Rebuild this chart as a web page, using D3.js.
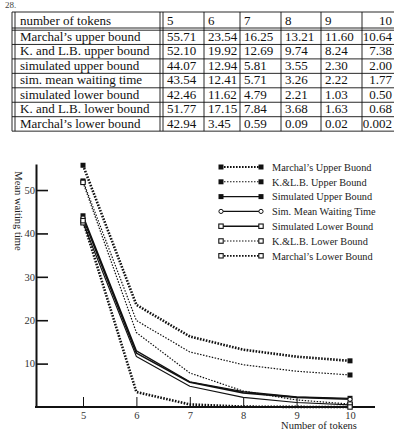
<!DOCTYPE html>
<html><head><meta charset="utf-8">
<script src="https://cdn.jsdelivr.net/npm/d3@7"></script>
<style>html,body{margin:0;padding:0;background:#fff;overflow:hidden}</style>
</head><body><svg id="c" width="394" height="433"></svg>
<script>
// ---- data ----
const tokens = [5, 6, 7, 8, 9, 10];
const tableLabels = ["Marchal\u2019s upper bound", "K. and L.B. upper bound", "simulated upper bound",
  "sim. mean waiting time", "simulated lower bound", "K. and L.B. lower bound", "Marchal\u2019s lower bound"];
const legendLabels = ["Marchal\u2019s Upper Buond", "K.&L.B. Upper Bound", "Simulated Upper Bound",
  "Sim. Mean Waiting Time", "Simulated Lower Bound", "K.&L.B. Lower Bound", "Marchal\u2019s Lower Bound"];
const marchalUpper = [55.71, 23.54, 16.25, 13.21, 11.60, 10.64];
const klbUpper = [52.10, 19.92, 12.69, 9.74, 8.24, 7.38];
const simUpper = [44.07, 12.94, 5.81, 3.55, 2.30, 2.00];
const simMean = [43.54, 12.41, 5.71, 3.26, 2.22, 1.77];
const simLower = [42.46, 11.62, 4.79, 2.21, 1.03, 0.50];
const klbLower = [51.77, 17.15, 7.84, 3.68, 1.63, 0.68];
const marchalLower = [42.94, 3.45, 0.59, 0.09, 0.02, 0.002];
const yTicks = [10, 20, 30, 40, 50];

const seriesValues = [marchalUpper, klbUpper, simUpper, simMean, simLower, klbLower, marchalLower];
// styles per series (index-matched)
const styles = [
  {w: 2.6, dash: "1.6,1.4", marker: "square", fill: true},
  {w: 1.2, dash: "1.5,1.5", marker: "square", fill: true},
  {w: 1.3, dash: null, marker: "square", fill: true},
  {w: 1.6, dash: null, marker: "circle", fill: false},
  {w: 1.1, dash: null, marker: "square", fill: false},
  {w: 1.2, dash: "1.5,1.5", marker: "square", fill: false},
  {w: 2.6, dash: "1.6,1.4", marker: "square", fill: false}
];

const svg = d3.select("#c");
const ink = "#111";
const serif = "'Liberation Serif', 'Times New Roman', serif";

// ---- caption fragment at top ----
svg.append("text").attr("x", 5).attr("y", 8).attr("font-family", serif).attr("font-size", 9)
  .attr("fill", "#444").text("28.");

// ---- table ----
const tbl = svg.append("g").attr("font-family", serif).attr("font-size", 13).attr("fill", ink);
const colSeps = [204, 240, 281, 321, 362];
const colStarts = [163, 204, 240, 281, 321, 362];
const rowBottoms = tableLabels.map((d, i) => 30 + (i + 1) * 14.45);
const L = (x1, y1, x2, y2) => tbl.append("line").attr("x1", x1).attr("y1", y1).attr("x2", x2).attr("y2", y2)
  .attr("stroke", ink).attr("stroke-width", 0.9);
const tableBottom = rowBottoms[rowBottoms.length - 1];
L(12, 12, 394, 12);
L(12, 28, 394, 28);
L(12, 30.2, 394, 30.2);
rowBottoms.forEach(y => L(12, y, 394, y));
[12, 15, 160, 163].concat(colSeps).forEach(x => L(x, 12, x, tableBottom));
tbl.append("text").attr("x", 20).attr("y", 24.5).text("number of tokens");
tokens.forEach((t, j) => {
  const last = j === tokens.length - 1;
  tbl.append("text").attr("x", last ? 392 : colStarts[j] + 4).attr("y", 24.5)
    .attr("text-anchor", last ? "end" : "start").text(t);
});
const fmt = v => v < 0.01 ? String(v) : v.toFixed(2);
seriesValues.forEach((vals, i) => {
  const yb = rowBottoms[i] - 3.6;
  tbl.append("text").attr("x", 20).attr("y", yb).text(tableLabels[i]);
  vals.forEach((v, j) => {
    const last = j === vals.length - 1;
    tbl.append("text").attr("x", last ? 392 : colStarts[j] + 4).attr("y", yb)
      .attr("text-anchor", last ? "end" : "start").text(fmt(v));
  });
});

// ---- chart ----
const x = d3.scaleLinear().domain([5, 10]).range([83, 350]);
const y = d3.scaleLinear().domain([0, 56]).range([407, 164]);

const chart = svg.append("g").attr("font-family", serif).attr("fill", ink);

const yAxis = chart.append("g").attr("transform", "translate(36,0)")
  .call(d3.axisLeft(y).tickValues(yTicks).tickSizeInner(-12).tickSizeOuter(0).tickPadding(1));
yAxis.select(".domain").attr("stroke", ink).attr("stroke-width", 2);
yAxis.selectAll(".tick line").attr("stroke", ink).attr("stroke-width", 1.6);
yAxis.selectAll(".tick text").attr("font-family", serif).attr("font-size", 10.5).attr("fill", "#333");

const xAxis = chart.append("g").attr("transform", "translate(0,407)")
  .call(d3.axisBottom(x).tickValues(tokens).tickFormat(d3.format("d"))
    .tickSizeInner(-10).tickSizeOuter(0).tickPadding(5));
xAxis.select(".domain").remove();
xAxis.selectAll(".tick line").attr("stroke", ink).attr("stroke-width", 1);
xAxis.selectAll(".tick text").attr("font-family", serif).attr("font-size", 10.5).attr("fill", "#333");
chart.append("line").attr("x1", 35).attr("x2", 375).attr("y1", 407).attr("y2", 407)
  .attr("stroke", ink).attr("stroke-width", 2);

chart.append("text").attr("x", 319).attr("y", 429).attr("text-anchor", "middle")
  .attr("font-size", 10.5).attr("fill", "#222").text("Number of tokens");
chart.append("text").attr("transform", "translate(15,211) rotate(90)").attr("text-anchor", "middle")
  .attr("font-size", 10.5).attr("fill", "#222").text("Mean waiting time");

function drawMarker(g, cx, cy, st) {
  if (st.marker === "circle") {
    g.append("circle").attr("cx", cx).attr("cy", cy).attr("r", 2.1)
      .attr("fill", "#fff").attr("stroke", ink).attr("stroke-width", 1);
  } else {
    const s = st.fill ? 5 : 4.4;
    g.append("rect").attr("x", cx - s / 2).attr("y", cy - s / 2).attr("width", s).attr("height", s)
      .attr("fill", st.fill ? ink : "#fff").attr("stroke", ink).attr("stroke-width", st.fill ? 0 : 1.1);
  }
}

const line = d3.line().x((d, i) => x(tokens[i])).y(d => y(d));
const lines = chart.append("g");
seriesValues.forEach((vals, i) => {
  const st = styles[i];
  lines.append("path").attr("d", line(vals)).attr("fill", "none").attr("stroke", ink)
    .attr("stroke-width", st.w).attr("stroke-dasharray", st.dash).attr("stroke-linejoin", "round");
});
seriesValues.forEach((vals, i) => {
  const st = styles[i];
  [0, vals.length - 1].forEach(j => drawMarker(lines, x(tokens[j]), y(vals[j]), st));
});

const leg = chart.append("g");
legendLabels.forEach((lab, i) => {
  const st = styles[i];
  const ly = 167 + i * 14.8;
  leg.append("line").attr("x1", 221).attr("x2", 261).attr("y1", ly).attr("y2", ly)
    .attr("stroke", ink).attr("stroke-width", st.w === 2.6 ? 1.8 : (st.dash ? 1.1 : 1.4))
    .attr("stroke-dasharray", st.dash);
  drawMarker(leg, 221, ly, st);
  drawMarker(leg, 261, ly, st);
  leg.append("text").attr("x", 272).attr("y", ly + 3.8).attr("font-size", 10.3).attr("fill", "#222").text(lab);
});
</script></body></html>
